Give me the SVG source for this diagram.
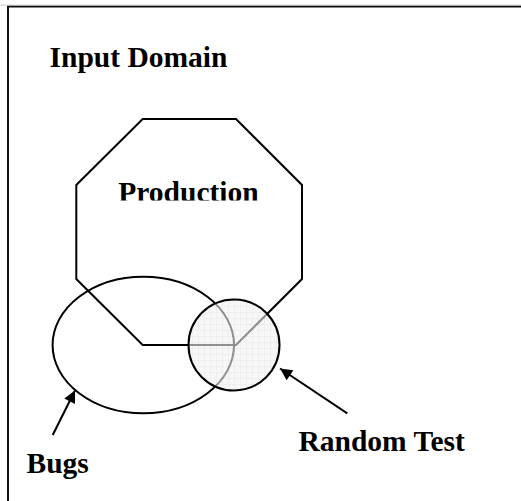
<svg xmlns="http://www.w3.org/2000/svg" width="521" height="501" viewBox="0 0 521 501">
<style>
.lbl{font-family:"Liberation Serif","Times New Roman",serif;font-weight:bold;font-size:29.5px;fill:#000}
.shape{fill:none;stroke:#000;stroke-width:2}
.conn{stroke:#000;stroke-width:2;fill:none}
</style>
<defs>
<pattern id="grid" width="6" height="6" patternUnits="userSpaceOnUse">
<rect width="6" height="6" fill="#f1f1f1"/>
<path d="M0 0.5H6M0.5 0V6" stroke="#dcdcdc" stroke-width="0.6"/>
</pattern>
<marker id="ah" viewBox="0 0 10 10" refX="10" refY="5" markerWidth="16" markerHeight="12" markerUnits="userSpaceOnUse" orient="auto">
<path d="M0 0L10 5L0 10z" fill="#000"/>
</marker>
<clipPath id="prodclip"><rect x="0" y="0" width="521" height="200.5"/></clipPath>
</defs>
<rect width="521" height="501" fill="#fff"/>
<g id="frame">
<path d="M8 501V6.5H521" fill="none" stroke="#111" stroke-width="2"/>
<path d="M0 5.2H521" stroke="#bbb" stroke-width="0.8"/>
</g>
<g id="production">
<polygon class="shape" points="142.7,119 236,119 302,185 302,279 236,345 142.7,345 76.3,279 76.3,185"/>
<text class="lbl" x="188.5" y="202" text-anchor="middle" clip-path="url(#prodclip)">Production</text>
</g>
<g id="bugs">
<ellipse class="shape" cx="143.3" cy="345" rx="90.7" ry="68.3"/>
<text class="lbl" x="26.5" y="473">Bugs</text>
</g>
<g id="random-test">
<circle cx="234" cy="345" r="45.5" fill="url(#grid)" fill-opacity="0.6"/>
<circle cx="234" cy="345" r="45.5" fill="none" stroke="#000" stroke-width="2"/>
<text class="lbl" x="298.5" y="451">Random Test</text>
</g>
<g id="input-domain">
<text class="lbl" x="49.5" y="67">Input Domain</text>
</g>
<g id="connectors">
<line class="conn" x1="52.7" y1="435" x2="75" y2="390.5" marker-end="url(#ah)"/>
<line class="conn" x1="347.3" y1="413.3" x2="280" y2="368.5" marker-end="url(#ah)"/>
</g>
</svg>
